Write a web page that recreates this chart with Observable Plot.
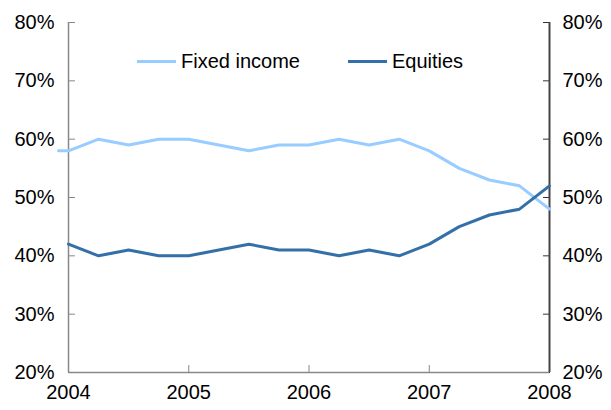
<!DOCTYPE html>
<html>
<head>
<meta charset="utf-8">
<script src="https://cdn.jsdelivr.net/npm/d3@7"></script>
<script src="https://cdn.jsdelivr.net/npm/@observablehq/plot@0.6"></script>
<style>
  body { margin: 0; background: #fff; }
  #wrap { position: relative; width: 611px; height: 410px; font-family: "Liberation Sans", Arial, sans-serif; }
  #legend { position: absolute; top: 50px; left: 137px; display: flex; font-size: 20px; color: #000; align-items: center; }
  .item { display: flex; align-items: center; }
  .sw { width: 39px; height: 3px; margin-right: 5px; }
</style>
</head>
<body>
<div id="wrap"><div id="legend"></div></div>
<script>
const seriesNames = ["Fixed income", "Equities"];
const seriesColors = ["#99ccff", "#3470a8"];
const quarters = [2004, 2004.25, 2004.5, 2004.75, 2005, 2005.25, 2005.5, 2005.75, 2006, 2006.25, 2006.5, 2006.75, 2007, 2007.25, 2007.5, 2007.75, 2008];
const fixedStartX = 2003.917;
const fixedStartY = 58;
const fixedIncome = [58, 60, 59, 60, 60, 59, 58, 59, 59, 60, 59, 60, 58, 55, 53, 52, 48];
const equities = [42, 40, 41, 40, 40, 41, 42, 41, 41, 40, 41, 40, 42, 45, 47, 48, 52];
const yearTicks = [2004, 2005, 2006, 2007, 2008];
const innerYearTicks = [2005, 2006, 2007];
const yTicks = [20, 30, 40, 50, 60, 70, 80];

const rows = [{x: fixedStartX, y: fixedStartY, s: seriesNames[0]}];
quarters.forEach((q, i) => rows.push({x: q, y: fixedIncome[i], s: seriesNames[0]}));
quarters.forEach((q, i) => rows.push({x: q, y: equities[i], s: seriesNames[1]}));

const font = "Liberation Sans, Arial, sans-serif";
const chart = Plot.plot({
  width: 611,
  height: 410,
  marginLeft: 68,
  marginRight: 62,
  marginTop: 22,
  marginBottom: 38,
  style: {fontFamily: font, fontSize: "20px", color: "#000", background: "#fff"},
  x: {domain: [2004, 2008], label: null},
  y: {domain: [20, 80], label: null},
  color: {domain: seriesNames, range: seriesColors},
  marks: [
    Plot.axisX(yearTicks, {tickSize: 0, tickPadding: 12, tickFormat: d => String(d), fontSize: 20, fill: "#000", label: null}),
    Plot.axisX(innerYearTicks, {tickSize: 7, text: null, dy: -7, stroke: "#888", label: null}),
    Plot.axisY(yTicks, {anchor: "left", tickSize: 0, tickPadding: 14, tickFormat: d => d + "%", fontSize: 20, fill: "#000", label: null}),
    Plot.axisY(yTicks, {anchor: "right", tickSize: 0, tickPadding: 13, tickFormat: d => d + "%", fontSize: 20, fill: "#000", label: null}),
    Plot.axisY(yTicks, {anchor: "left", tickSize: 7, text: null, dx: 7, stroke: "#888", label: null}),
    Plot.axisY(yTicks, {anchor: "right", tickSize: 7, text: null, dx: -7, stroke: "#333", label: null}),
    Plot.ruleX([2004], {stroke: "#888", strokeWidth: 1.5}),
    Plot.ruleY([20], {stroke: "#888", strokeWidth: 1.5}),
    Plot.ruleX([2008], {stroke: "#444", strokeWidth: 2}),
    Plot.line(rows, {x: "x", y: "y", z: "s", stroke: "s", strokeWidth: 3})
  ]
});
const wrap = document.getElementById("wrap");
wrap.insertBefore(chart, wrap.firstChild);

const legend = document.getElementById("legend");
seriesNames.forEach((n, i) => {
  const it = document.createElement("div");
  it.className = "item";
  it.style.marginRight = i === 0 ? "48px" : "0";
  const sw = document.createElement("div");
  sw.className = "sw";
  sw.style.background = seriesColors[i];
  const t = document.createElement("span");
  t.textContent = n;
  it.appendChild(sw); it.appendChild(t);
  legend.appendChild(it);
});
</script>
</body>
</html>
